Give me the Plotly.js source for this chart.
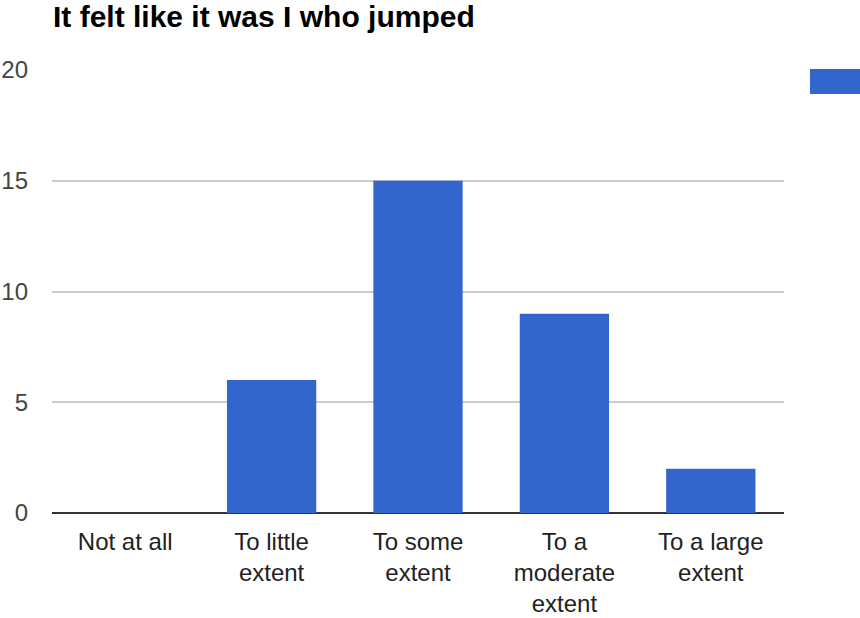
<!DOCTYPE html>
<html>
<head>
<meta charset="utf-8">
<script src="https://cdn.plot.ly/plotly-3.0.1.min.js"></script>
<style>html,body{margin:0;padding:0;background:#fff;}#chart{width:860px;height:618px;}</style>
</head>
<body>
<div id="chart"></div>
<script>
const categories = ["Not at all", "To little<br>extent", "To some<br>extent", "To a<br>moderate<br>extent", "To a large<br>extent"];
const counts = [0, 6, 15, 9, 2];
const yTicks = [0, 5, 10, 15, 20];
const chartTitle = "It felt like it was I who jumped";

const trace = {
  type: 'bar',
  x: categories,
  y: counts,
  marker: {color: '#3366cc'},
  width: 0.61,
  showlegend: false,
  hoverinfo: 'x+y'
};

const layout = {
  width: 860, height: 618,
  margin: {l: 52, r: 76, t: 70, b: 105},
  paper_bgcolor: '#fff', plot_bgcolor: '#fff',
  font: {family: 'Arial, "Liberation Sans", sans-serif', size: 24, color: '#222'},
  title: {
    text: '<b>' + chartTitle + '</b>',
    font: {family: 'Arial, "Liberation Sans", sans-serif', size: 30, color: '#000'},
    xref: 'container', yref: 'container',
    x: 53/860, xanchor: 'left',
    y: 1 - 16/618, yanchor: 'middle'
  },
  xaxis: {
    type: 'category',
    showgrid: false,
    showline: false,
    ticks: '',
    tickfont: {size: 24, color: '#222'},
    ticklabelstandoff: 12,
    fixedrange: true
  },
  yaxis: {
    range: [0, 20],
    tickvals: yTicks,
    ticktext: yTicks.map(String),
    showgrid: true,
    gridcolor: '#cccccc',
    gridwidth: 2,
    zeroline: true,
    zerolinecolor: '#333333',
    zerolinewidth: 2,
    showline: false,
    ticks: '',
    tickfont: {size: 24, color: '#444'},
    ticklabelstandoff: 23,
    fixedrange: true
  },
  shapes: [{
    type: 'rect', xref: 'paper', yref: 'paper',
    x0: 1 + (810-784)/732, x1: 1 + (870-784)/732,
    y0: 1 - (94-70)/443, y1: 1 - (69-70)/443,
    fillcolor: '#3366cc', line: {width: 0}
  }]
};

Plotly.newPlot('chart', [trace], layout, {displayModeBar: false, staticPlot: true});
</script>
</body>
</html>
